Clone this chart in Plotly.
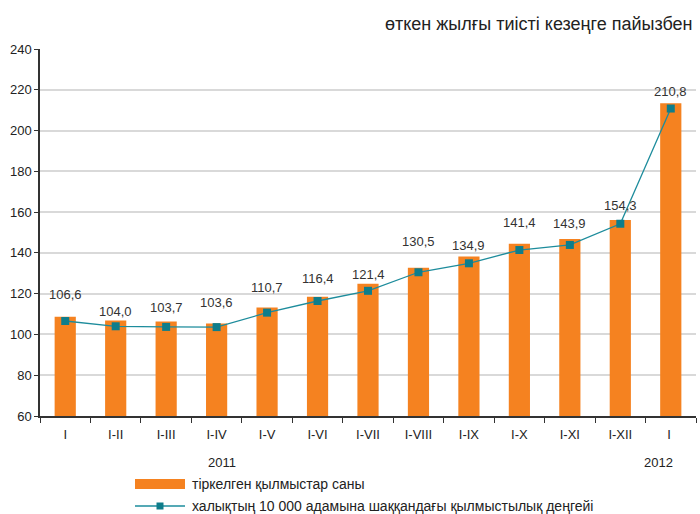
import plotly.graph_objects as go

categories = ["I", "I-II", "I-III", "I-IV", "I-V", "I-VI", "I-VII", "I-VIII", "I-IX", "I-X", "I-XI", "I-XII", "I "]
crimes_registered = [108.7, 106.8, 106.3, 105.4, 113.2, 118.5, 124.9, 132.7, 138.2, 144.5, 146.8, 156.1, 213.4]
crime_rate = [106.6, 104.0, 103.7, 103.6, 110.7, 116.4, 121.4, 130.5, 134.9, 141.4, 143.9, 154.3, 210.8]
rate_labels = ["106,6", "104,0", "103,7", "103,6", "110,7", "116,4", "121,4", "130,5", "134,9", "141,4", "143,9", "154,3", "210,8"]
y_ticks = [60, 80, 100, 120, 140, 160, 180, 200, 220, 240]
years = ["2011", "2012"]
series_names = ["тіркелген қылмыстар саны", "халықтың 10 000 адамына шаққандағы қылмыстылық деңгейі"]
title_text = "өткен жылғы тиісті кезеңге пайызбен"

# label offsets above markers (px) - styling only
label_offsets = [26, 15, 19, 25, 25, 23, 16, 31, 18, 28, 21, 18, 17]

FONT = "Liberation Sans, Arial, sans-serif"
ORANGE = "#F58220"
TEAL_LINE = "#1D8C9C"
TEAL_MARK = "#0E7D8B"

fig = go.Figure()
fig.add_trace(go.Bar(
    x=categories, y=crimes_registered, name=series_names[0],
    marker=dict(color=ORANGE, line=dict(width=0)), width=0.42,
))
fig.add_trace(go.Scatter(
    x=categories, y=crime_rate, name=series_names[1],
    mode="lines+markers",
    line=dict(color=TEAL_LINE, width=1.3),
    marker=dict(symbol="square", size=8, color=TEAL_MARK),
))

for i, (v, t) in enumerate(zip(crime_rate, rate_labels)):
    fig.add_annotation(x=i, y=v, text=t, showarrow=False, yshift=label_offsets[i],
                       font=dict(size=13, color="#333333", family=FONT))

fig.add_annotation(x=3.1, y=-0.128, yref="paper", yanchor="middle", text=years[0], showarrow=False,
                   font=dict(size=13, color="#222222", family=FONT))
fig.add_annotation(x=11.75, y=-0.128, yref="paper", yanchor="middle", text=years[1], showarrow=False,
                   font=dict(size=13, color="#222222", family=FONT))

fig.add_annotation(x=0.999, xref="paper", xanchor="right", y=1.068, yref="paper", yanchor="middle",
                   text=title_text, showarrow=False,
                   font=dict(size=18, color="#222222", family=FONT))

# manual legend (paper coords: plot spans x 40-696 px, y 49-416 px)
def px_x(p):
    return (p - 40) / 656.0

def px_y(p):
    return (416 - p) / 367.0

fig.add_shape(type="rect", xref="paper", yref="paper",
              x0=px_x(135), x1=px_x(185), y0=px_y(489), y1=px_y(479),
              fillcolor=ORANGE, line=dict(width=0))
fig.add_shape(type="line", xref="paper", yref="paper",
              x0=px_x(135), x1=px_x(185), y0=px_y(506), y1=px_y(506),
              line=dict(color=TEAL_LINE, width=1.3))
fig.add_shape(type="rect", xref="paper", yref="paper",
              x0=px_x(156.5), x1=px_x(163.5), y0=px_y(509.5), y1=px_y(502.5),
              fillcolor=TEAL_MARK, line=dict(width=0))
fig.add_annotation(x=px_x(190), y=px_y(484), xref="paper", yref="paper", xanchor="left", yanchor="middle",
                   text=series_names[0], showarrow=False, font=dict(size=14, color="#222222", family=FONT))
fig.add_annotation(x=px_x(190), y=px_y(506), xref="paper", yref="paper", xanchor="left", yanchor="middle",
                   text=series_names[1], showarrow=False, font=dict(size=14, color="#222222", family=FONT))

fig.update_layout(
    width=700, height=514,
    margin=dict(l=40, r=4, t=49, b=98),
    paper_bgcolor="white", plot_bgcolor="white",
    font=dict(family=FONT, size=13, color="#222222"),
    showlegend=False,
    bargap=0.58,
)
fig.update_xaxes(
    type="category", tickson="boundaries", ticks="outside", ticklen=5, tickcolor="#333333",
    showline=True, linecolor="#333333", linewidth=1.5, showgrid=False,
    tickfont=dict(size=13, family=FONT), range=[-0.5, 12.5], ticklabelstandoff=6,
)
fig.update_yaxes(
    range=[60, 240], tickvals=y_ticks, ticks="outside", ticklen=4, tickcolor="#333333",
    showline=True, linecolor="#333333", linewidth=1.5,
    showgrid=True, gridcolor="#D9D9D9", gridwidth=1.5, zeroline=False,
    tickfont=dict(size=13, family=FONT),
)

fig.write_html("out.html", config={"displayModeBar": False},
               post_script="document.body.style.margin='0';")
